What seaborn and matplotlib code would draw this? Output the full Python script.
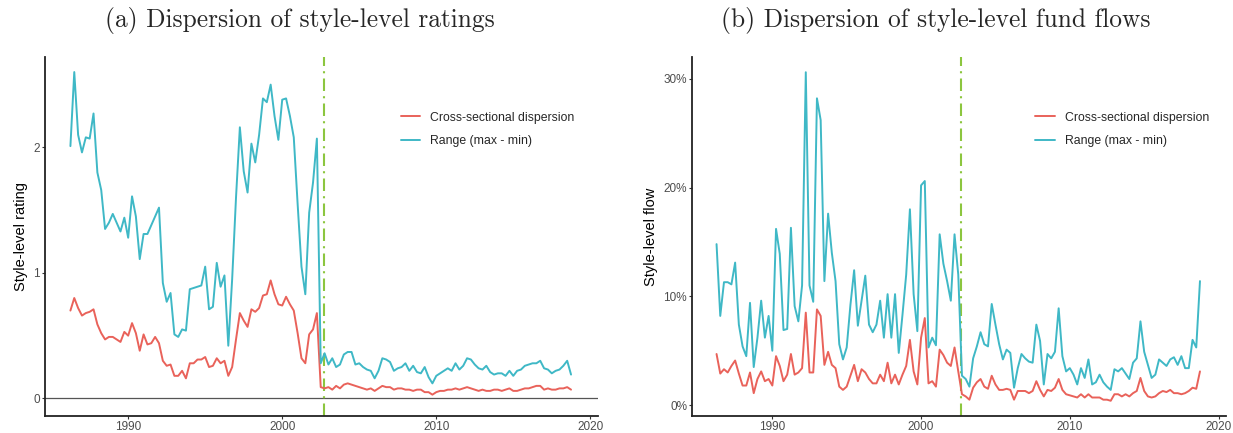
import numpy as np
import pandas as pd
import matplotlib
matplotlib.use('Agg')
import matplotlib.pyplot as plt
import matplotlib.ticker as mticker
import seaborn as sns

# quarterly observations, 1986Q2 .. 2018Q4
quarters = pd.period_range('1986Q2', '2018Q4', freq='Q')
years = quarters.year + (quarters.quarter - 1) / 4.0

# (a) style-level ratings
disp_rating = [
    0.70, 0.80, 0.72, 0.66, 0.68, 0.69, 0.71, 0.59, 0.52, 0.47,
    0.49, 0.49, 0.47, 0.45, 0.53, 0.50, 0.60, 0.52, 0.38, 0.51,
    0.43, 0.44, 0.49, 0.44, 0.30, 0.26, 0.27, 0.18, 0.18, 0.22,
    0.16, 0.28, 0.28, 0.31, 0.31, 0.33, 0.25, 0.26, 0.32, 0.28,
    0.30, 0.18, 0.25, 0.47, 0.68, 0.62, 0.57, 0.71, 0.69, 0.72,
    0.82, 0.83, 0.94, 0.83, 0.75, 0.74, 0.81, 0.75, 0.70, 0.52,
    0.32, 0.28, 0.51, 0.55, 0.68, 0.09, 0.08, 0.09, 0.07, 0.10,
    0.08, 0.11, 0.12, 0.11, 0.10, 0.09, 0.08, 0.07, 0.08, 0.06,
    0.08, 0.10, 0.09, 0.09, 0.07, 0.08, 0.08, 0.07, 0.07, 0.06,
    0.07, 0.07, 0.05, 0.05, 0.03, 0.05, 0.06, 0.06, 0.07, 0.07,
    0.08, 0.07, 0.08, 0.09, 0.08, 0.07, 0.06, 0.07, 0.06, 0.06,
    0.07, 0.07, 0.06, 0.07, 0.08, 0.06, 0.06, 0.07, 0.08, 0.08,
    0.09, 0.10, 0.10, 0.07, 0.08, 0.07, 0.07, 0.08, 0.08, 0.09,
    0.07,
]
range_rating = [
    2.01, 2.60, 2.10, 1.96, 2.08, 2.07, 2.27, 1.80, 1.66, 1.35,
    1.40, 1.47, 1.40, 1.33, 1.44, 1.28, 1.61, 1.45, 1.11, 1.31,
    1.31, 1.38, 1.45, 1.52, 0.92, 0.77, 0.84, 0.51, 0.49, 0.55,
    0.54, 0.87, 0.88, 0.89, 0.90, 1.05, 0.71, 0.73, 1.08, 0.89,
    0.98, 0.42, 0.95, 1.60, 2.16, 1.81, 1.64, 2.03, 1.88, 2.10,
    2.39, 2.36, 2.50, 2.25, 2.06, 2.38, 2.39, 2.25, 2.08, 1.55,
    1.05, 0.83, 1.48, 1.72, 2.07, 0.28, 0.36, 0.27, 0.32, 0.25,
    0.27, 0.35, 0.37, 0.37, 0.27, 0.28, 0.25, 0.23, 0.22, 0.16,
    0.22, 0.32, 0.31, 0.29, 0.22, 0.24, 0.25, 0.28, 0.22, 0.26,
    0.21, 0.20, 0.25, 0.17, 0.12, 0.18, 0.20, 0.22, 0.24, 0.22,
    0.28, 0.23, 0.26, 0.32, 0.31, 0.27, 0.24, 0.23, 0.26, 0.21,
    0.19, 0.20, 0.20, 0.18, 0.22, 0.18, 0.22, 0.23, 0.26, 0.27,
    0.28, 0.28, 0.30, 0.24, 0.23, 0.20, 0.22, 0.23, 0.26, 0.30,
    0.19,
]

# (b) style-level fund flows, in percent
disp_flow = [
    4.7, 2.9, 3.3, 3.0, 3.6, 4.1, 2.9, 1.8, 1.8, 3.0,
    1.1, 2.4, 3.1, 2.2, 2.4, 1.8, 4.5, 3.6, 2.2, 2.8,
    4.7, 2.8, 3.0, 3.4, 8.5, 3.0, 3.0, 8.8, 8.2, 3.7,
    4.9, 3.7, 3.4, 1.7, 1.4, 1.7, 2.7, 3.7, 2.2, 3.3,
    3.0, 2.4, 2.0, 2.0, 2.8, 2.2, 3.9, 2.0, 2.8, 1.9,
    2.8, 3.6, 6.0, 3.1, 1.9, 6.2, 8.0, 2.0, 2.2, 1.7,
    5.1, 4.6, 3.9, 3.6, 5.3, 3.1, 1.0, 0.8, 0.5, 1.6,
    2.1, 2.4, 1.7, 1.5, 2.7, 1.9, 1.4, 1.4, 1.5, 1.4,
    0.5, 1.3, 1.3, 1.3, 1.1, 1.3, 2.2, 1.4, 0.8, 1.4,
    1.3, 1.6, 2.4, 1.4, 1.0, 0.9, 0.8, 0.7, 1.0, 0.7,
    1.0, 0.7, 0.7, 0.7, 0.5, 0.5, 0.4, 1.0, 1.0, 0.8,
    1.0, 0.8, 1.1, 1.3, 2.5, 1.3, 0.8, 0.7, 0.8, 1.1,
    1.3, 1.2, 1.4, 1.1, 1.1, 1.0, 1.1, 1.3, 1.6, 1.5,
    3.1,
]
range_flow = [
    14.8, 8.2, 11.3, 11.3, 11.1, 13.1, 7.4, 5.4, 4.5, 9.4,
    3.5, 6.2, 9.6, 6.2, 8.2, 5.0, 16.2, 13.9, 6.9, 7.0,
    16.3, 9.1, 7.7, 11.0, 30.6, 11.0, 9.5, 28.2, 26.2, 11.4,
    17.6, 14.0, 11.4, 5.6, 4.2, 5.3, 9.2, 12.4, 7.3, 9.6,
    11.9, 7.4, 6.7, 7.4, 9.6, 6.2, 10.2, 6.2, 10.2, 4.8,
    8.3, 12.0, 18.0, 10.2, 6.8, 20.2, 20.6, 5.3, 6.2, 5.5,
    15.7, 13.0, 11.4, 9.6, 15.7, 12.0, 2.7, 2.4, 1.7, 4.3,
    5.4, 6.7, 5.6, 5.4, 9.3, 7.4, 5.6, 4.2, 5.1, 4.8,
    1.6, 3.4, 4.7, 4.3, 4.0, 3.9, 7.4, 5.9, 1.9, 4.7,
    4.3, 4.9, 8.9, 4.5, 3.1, 3.4, 2.8, 1.9, 3.4, 2.5,
    4.2, 1.9, 2.1, 2.8, 2.1, 1.7, 1.4, 3.3, 3.1, 3.4,
    2.9, 2.4, 3.9, 4.3, 7.7, 4.9, 3.7, 2.5, 2.8, 4.2,
    3.9, 3.6, 4.2, 4.4, 3.7, 4.5, 3.4, 3.4, 6.0, 5.3,
    11.4,
]

series_names = ['Cross-sectional dispersion', 'Range (max - min)']
colors = {'Cross-sectional dispersion': '#E9625A', 'Range (max - min)': '#3FB8C6'}
break_year = 2002.7


def long_frame(disp, rng):
    d1 = pd.DataFrame({'year': years, 'value': disp, 'series': series_names[0]})
    d2 = pd.DataFrame({'year': years, 'value': rng, 'series': series_names[1]})
    return pd.concat([d1, d2], ignore_index=True)


def draw_panel(ax, data, ylabel, ylim, yticks, pct=False, zero_line=True):
    if zero_line:
        ax.axhline(0, color='#555555', lw=0.9, zorder=1)
    sns.lineplot(data=data, x='year', y='value', hue='series', hue_order=series_names,
                 palette=colors, lw=1.4, errorbar=None, ax=ax, zorder=3)
    ax.axvline(break_year, color='#8CC63F', lw=1.5, ls=(0, (6, 2.5, 1, 2.5)), zorder=2)
    ax.set(xlim=(1984.6, 2020.5), ylim=ylim, xticks=[1990, 2000, 2010, 2020], yticks=yticks)
    ax.set_xlabel('')
    ax.set_ylabel(ylabel, fontsize=10.5, color='black', labelpad=4)
    if pct:
        ax.yaxis.set_major_formatter(mticker.FuncFormatter(lambda v, p: f'{v:.0f}%'))
    ax.tick_params(labelsize=8.5, labelcolor='#4D4D4D', color='#333333', length=2.5, width=0.8, pad=1)
    for side in ['left', 'bottom']:
        ax.spines[side].set_color('#222222')
        ax.spines[side].set_linewidth(1.3)
    sns.despine(ax=ax)
    leg = ax.legend(loc='upper left', bbox_to_anchor=(0.643, 0.848), frameon=False, fontsize=8.8,
                    handlelength=1.6, handletextpad=0.8, labelspacing=0.95, borderpad=0, borderaxespad=0)
    for line in leg.get_lines():
        line.set_linewidth(1.4)
    ax.grid(False)


sns.set_style('ticks')
plt.rcParams['font.family'] = ['Liberation Sans', 'DejaVu Sans']

fig = plt.figure(figsize=(12.33, 4.33), dpi=100)
ax1 = fig.add_axes([45 / 1233, 17 / 433, 553 / 1233, 359 / 433])
ax2 = fig.add_axes([692 / 1233, 17 / 433, 534 / 1233, 359 / 433])

draw_panel(ax1, long_frame(disp_rating, range_rating), 'Style-level rating', (-0.14, 2.72), [0, 1, 2])
draw_panel(ax2, long_frame(disp_flow, range_flow), 'Style-level flow', (-1.0, 32.0), [0, 10, 20, 30],
           pct=True, zero_line=False)

fig.text(300 / 1233, 1 - 21 / 433, '(a) Dispersion of style-level ratings', ha='center', va='center',
         family='cmr10', fontsize=18.3)
fig.text(936 / 1233, 1 - 21 / 433, '(b) Dispersion of style-level fund flows', ha='center', va='center',
         family='cmr10', fontsize=18.3)

fig.savefig('out.png', dpi=100)
